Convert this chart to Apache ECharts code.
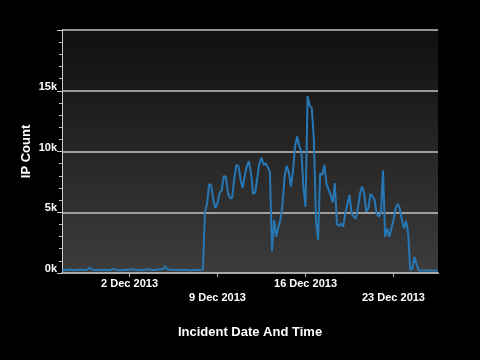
<!DOCTYPE html>
<html>
<head>
<meta charset="utf-8">
<script src="https://cdn.jsdelivr.net/npm/echarts@6/dist/echarts.min.js"></script>
<style>
html,body{margin:0;padding:0;background:#000;}
#chart{width:480px;height:360px;}
</style>
</head>
<body>
<div id="chart"></div>
<script>
// Data: one reading every 4 hours starting 26 Nov 2013 16:00
const startTime = [2013, 10, 26, 16];
const stepHours = 4;
const baselineValues = [
  250, 260, 240, 270, 280, 250, 230, 260, 280, 270, 250, 240,
  300, 450, 280, 250, 240, 230, 250, 240, 260, 250, 230, 270,
  340, 280, 250, 230, 220, 240, 260, 250, 270, 310, 280, 260,
  250, 240, 230, 250, 280, 300, 270, 250, 240, 260, 280, 300,
  320, 560, 310, 280, 270, 260, 250, 240, 230, 250, 260, 240,
  230, 220, 230, 240, 250, 240, 260
];
const activeValues = [
  300, 5040, 5700, 7330, 7200, 6000, 5350, 5750, 6600, 6800,
  8000, 7900, 6600, 6150, 6200, 7800, 8900, 8800, 7700, 7000,
  8000, 8800, 9200, 8180, 6500, 6650, 7850, 9040, 9500, 8900,
  9040, 8710, 8300, 1800, 4355, 2975, 3800, 4350, 5600, 7930,
  8810, 8350, 7115, 8350, 10410, 11240, 10470, 10000, 7115, 5450,
  14545, 13770, 13580, 10970, 4355, 2700, 8215, 8070, 8900, 7330,
  6890, 6420, 5790, 7390, 4030, 3860, 4080, 3800, 4900, 5680,
  6420, 4900, 4630, 4490, 5320, 6560, 7115, 6560, 5040, 5320,
  6510, 6290, 6010, 4850, 4630, 4900, 8440, 2975, 3660, 2975,
  3660, 4355, 5320, 5680, 5320, 4355, 3660, 4300, 3250, 220,
  360, 1320, 720, 220
];
const tailValues = [200, 210, 200, 190, 200, 210, 200, 200, 190];

const tickDates = [[2013, 11, 2], [2013, 11, 9], [2013, 11, 16], [2013, 11, 23]];
const tickLabels = ['2 Dec 2013', '9 Dec 2013', '16 Dec 2013', '23 Dec 2013'];
const yTicks = [0, 5000, 10000, 15000, 20000];
const yTickLabels = ['0k', '5k', '10k', '15k', ''];

const allValues = baselineValues.concat(activeValues, tailValues);
const t0 = new Date(startTime[0], startTime[1], startTime[2], startTime[3]).getTime();
const seriesData = allValues.map((v, i) => [t0 + i * stepHours * 3600000, v]);
const tickValues = tickDates.map(d => new Date(d[0], d[1], d[2]).getTime());

const xMin = new Date(2013, 10, 26, 15).getTime();
const xMax = new Date(2013, 11, 26, 13).getTime();

const chart = echarts.init(document.getElementById('chart'), null, {renderer: 'canvas'});
const fontFam = '"Liberation Sans", Arial, sans-serif';
chart.setOption({
  backgroundColor: '#000',
  animation: false,
  grid: {
    left: 62, right: 42, top: 30, bottom: 87,
    show: true, borderWidth: 0,
    backgroundColor: new echarts.graphic.LinearGradient(0, 0, 0, 1, [
      {offset: 0, color: '#101010'},
      {offset: 1, color: '#3c3c3c'}
    ])
  },
  xAxis: {
    type: 'value',
    min: xMin, max: xMax,
    scale: true,
    name: 'Incident Date And Time',
    nameLocation: 'middle',
    nameGap: 53,
    nameMoveOverlap: false,
    nameTextStyle: {color: '#fff', fontSize: 13, fontWeight: 'bold', fontFamily: fontFam},
    axisLine: {show: true, lineStyle: {color: '#aaa', width: 2}},
    axisTick: {show: true, customValues: tickValues, length: 4, lineStyle: {color: '#bbb', width: 1}},
    axisLabel: {
      customValues: tickValues,
      color: '#fff', fontSize: 11, fontWeight: 'bold', fontFamily: fontFam,
      margin: 4, lineHeight: 14,
      formatter: function (val) {
        let idx = 0, best = Infinity;
        tickValues.forEach((t, i) => { const d = Math.abs(t - val); if (d < best) { best = d; idx = i; } });
        return (idx % 2 ? '\n' : '') + tickLabels[idx];
      }
    },
    splitLine: {show: false}
  },
  yAxis: {
    type: 'value',
    min: yTicks[0], max: yTicks[yTicks.length - 1], interval: yTicks[1] - yTicks[0],
    name: 'IP Count',
    nameLocation: 'middle',
    nameGap: 29,
    nameMoveOverlap: false,
    nameTextStyle: {color: '#fff', fontSize: 13, fontWeight: 'bold', fontFamily: fontFam},
    axisLine: {show: true, lineStyle: {color: '#ccc', width: 1}},
    axisTick: {show: true, length: 5, lineStyle: {color: '#ccc'}},
    minorTick: {show: true, splitNumber: 5, length: 3, lineStyle: {color: '#bbb'}},
    axisLabel: {
      color: '#fff', fontSize: 11, fontWeight: 'bold', fontFamily: fontFam,
      margin: 5, verticalAlign: 'bottom', lineHeight: 8,
      formatter: function (v) { const i = yTicks.indexOf(v); return i >= 0 ? yTickLabels[i] : ''; }
    },
    splitLine: {show: true, lineStyle: {color: '#c4c4c4', width: 1.5}}
  },
  series: [{
    type: 'line',
    data: seriesData,
    showSymbol: false,
    symbol: 'none',
    lineStyle: {color: '#2777b5', width: 2},
    z: 3
  }]
});
</script>
</body>
</html>
